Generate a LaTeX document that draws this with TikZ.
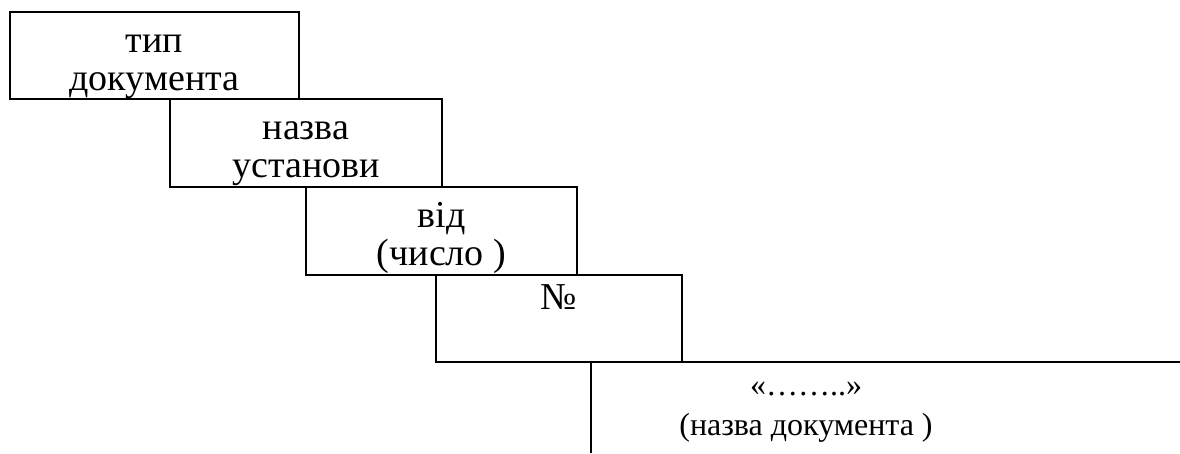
\documentclass[tikz,border=0pt]{standalone}
\usepackage{fontspec}
\setmainfont{Liberation Serif}
\usetikzlibrary{positioning}

\tikzset{
  field/.style={draw, line width=1.2pt, anchor=north west, inner sep=0pt, outer sep=0pt},
  caption/.style={anchor=north, align=center, inner sep=0pt, font=\fontsize{38}{38}\selectfont},
  rule/.style={line width=1.2pt}
}

\begin{document}
\begin{tikzpicture}[x=1pt, y=-1pt]
  \useasboundingbox (0,0) rectangle (1180,453);

  % Stepped fields
  \node[field, minimum width=289pt, minimum height=87pt] (tip) at (10,12) {};
  \node[field, minimum width=272pt, minimum height=88pt] (ustanova) at ([xshift=160pt]tip.south west) {};
  \node[field, minimum width=271pt, minimum height=88pt] (vid) at ([xshift=136pt]ustanova.south west) {};
  \node[field, minimum width=246pt, minimum height=87pt] (nomer) at ([xshift=130pt]vid.south west) {};

  % Texts of the fields
  \node[caption] (tiptext) at ([yshift=-14pt]tip.north) {\strut тип\\документа};
  \node[caption] (ustanovatext) at ([yshift=-14pt]ustanova.north) {\strut назва\\установи};
  \node[caption] (vidtext) at ([yshift=-14pt]vid.north) {\strut від\\(число )};
  \node[caption] (nomertext) at ([yshift=-8pt]nomer.north) {\strut №};

  % Rule lines for the document title
  \coordinate (rend) at (1180,362);
  \coordinate (vtop) at ([xshift=155pt]nomer.south west);
  \coordinate (vend) at (vtop |- 0,453);
  \draw[rule] (nomer.south east) -- (rend);
  \draw[rule] (vtop) -- (vend);

  \node[caption, font=\fontsize{32}{40}\selectfont] (nazva) at (806,367) {\strut «……..»\\(назва документа )};
\end{tikzpicture}
\end{document}
